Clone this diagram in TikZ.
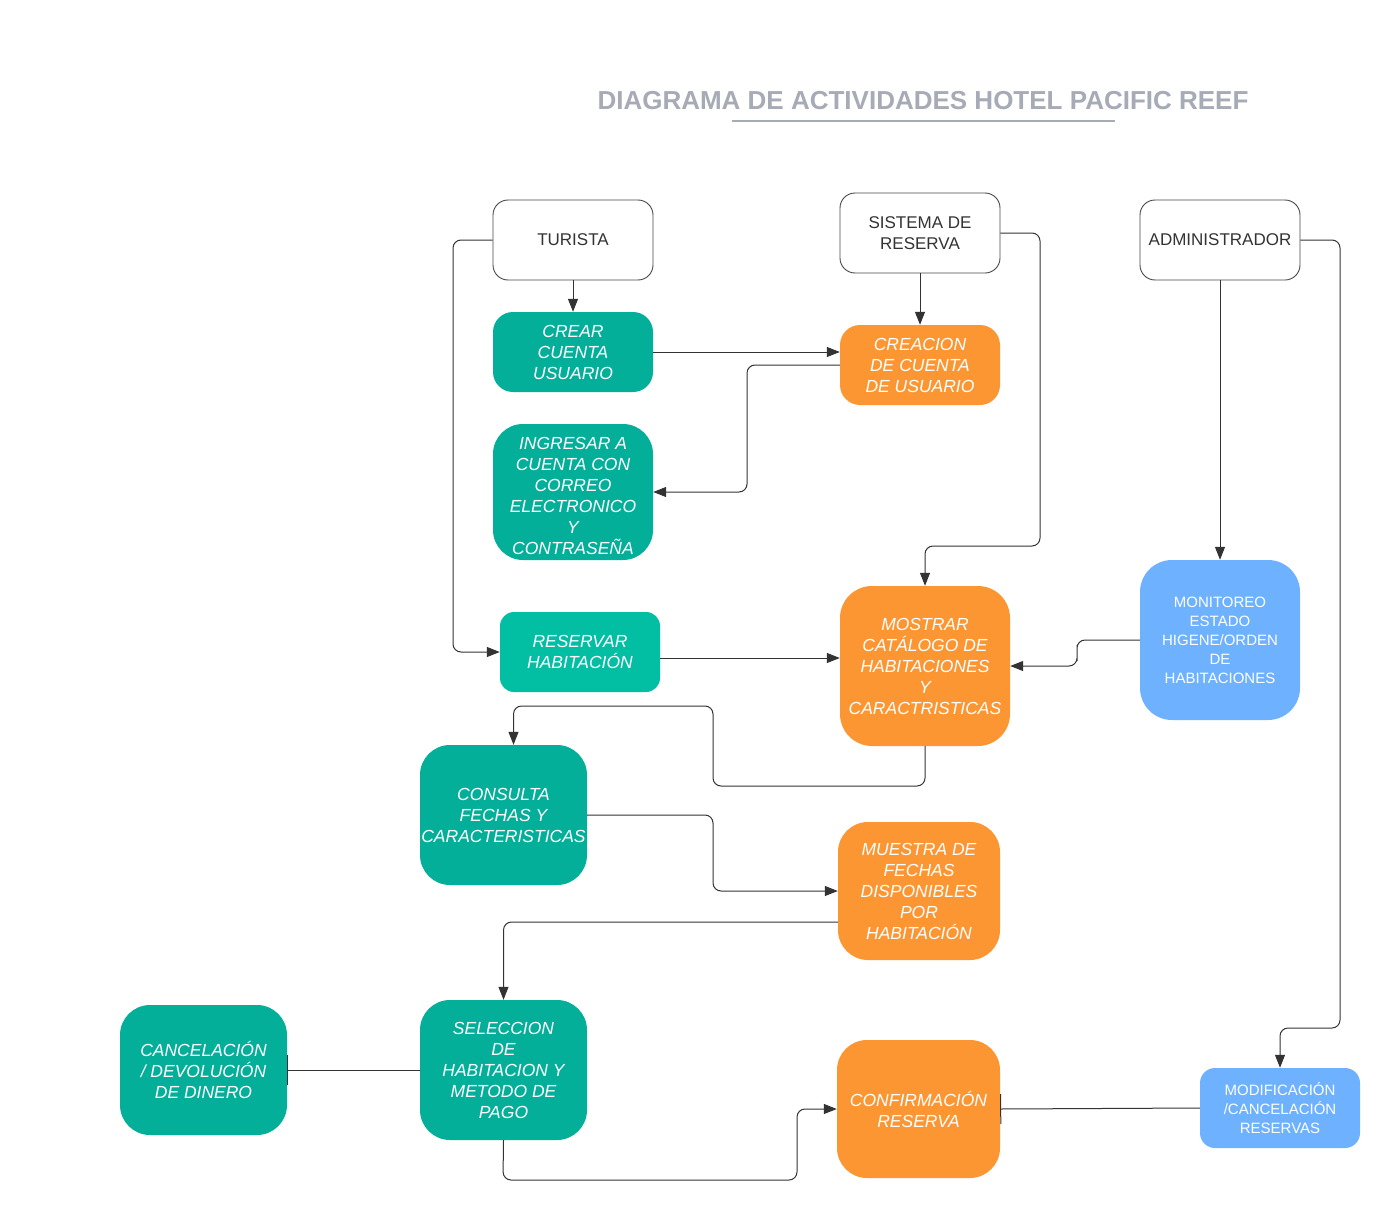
\documentclass[tikz,border=0pt]{standalone}
\usepackage{fontspec}
\setmainfont{Liberation Sans}
\usetikzlibrary{arrows.meta}
\definecolor{teal1}{HTML}{04AF9A}
\definecolor{teal2}{HTML}{02BFA4}
\definecolor{orng}{HTML}{FC9633}
\definecolor{blu}{HTML}{6DB1FF}
\definecolor{ttl}{HTML}{A6ABB6}
\definecolor{ln}{HTML}{333333}
\tikzset{
  box/.style={inner sep=0pt, align=center, rounded corners=#1},
  box/.default=20,
  hdr/.style={box=15, draw=ln!90, line width=0.9pt, fill=white, text=ln,
    font=\fontsize{17}{21}\selectfont, minimum width=160, minimum height=80},
  act/.style={box=20, fill=teal1, text=white, font=\fontsize{17.5}{21}\selectfont\itshape},
  sys/.style={box=20, fill=orng, text=white, font=\fontsize{17.5}{21}\selectfont\itshape},
  adm/.style={box=20, fill=blu, text=white, font=\fontsize{15}{19}\selectfont},
  arr/.style={draw=ln, line width=1pt, rounded corners=8,
    -{Triangle[length=13pt,width=10pt]}},
  bar/.style={draw=ln, line width=1pt, -{Bar[width=30pt]}},
}
\begin{document}
\begin{tikzpicture}[x=1pt,y=-1pt]
\useasboundingbox[fill=white] (0,0) rectangle (1400,1220);
% title
\node[text=ttl, font=\fontsize{26}{30}\selectfont\bfseries, inner sep=0pt] (title) at (923,101) {DIAGRAMA DE ACTIVIDADES HOTEL PACIFIC REEF};
\coordinate (ulA) at (732,121);
\coordinate (ulB) at (1115,121);
\draw[ttl, line width=2pt] (ulA) -- (ulB);
% headers
\node[hdr] (turista) at (573,240) {TURISTA};
\node[hdr] (sistema) at (920,233) {SISTEMA DE\\RESERVA};
\node[hdr] (admin) at (1220,240) {ADMINISTRADOR};
% activities
\node[act, minimum width=160, minimum height=80] (crear) at (573,352) {CREAR\\CUENTA\\USUARIO};
\node[sys, minimum width=160, minimum height=80] (creacion) at (920,365) {CREACION\\DE CUENTA\\DE USUARIO};
\node[act, box=30, minimum width=160, minimum height=136] (ingresar) at (573,492) {};
\node[act, anchor=center] (ingtxt) at (573,496) {INGRESAR A\\CUENTA CON\\CORREO\\ELECTRONICO\\Y\\CONTRASEÑA};
\node[act, fill=teal2, box=14, minimum width=160, minimum height=80] (reservar) at (580,652) {RESERVAR\\HABITACIÓN};
\node[sys, box=32, minimum width=170, minimum height=160] (mostrar) at (925,666) {MOSTRAR\\CATÁLOGO DE\\HABITACIONES\\Y\\CARACTRISTICAS};
\node[adm, box=32, minimum width=160, minimum height=160] (monitoreo) at (1220,640) {MONITOREO\\ESTADO\\HIGENE/ORDEN\\DE\\HABITACIONES};
\node[act, box=30, minimum width=167, minimum height=140] (consulta) at (503.5,815) {CONSULTA\\FECHAS Y\\CARACTERISTICAS};
\node[sys, box=30, minimum width=162, minimum height=138] (muestra) at (919,891) {MUESTRA DE\\FECHAS\\DISPONIBLES\\POR\\HABITACIÓN};
\node[act, box=30, minimum width=167, minimum height=140] (seleccion) at (503.5,1070) {SELECCION\\DE\\HABITACION Y\\METODO DE\\PAGO};
\node[act, box=30, minimum width=167, minimum height=130] (cancel) at (203.5,1070) {CANCELACIÓN\\/ DEVOLUCIÓN\\DE DINERO};
\node[sys, box=30, minimum width=163, minimum height=138] (confirm) at (918.5,1109) {CONFIRMACIÓN\\RESERVA};
\node[adm, box=15, minimum width=160, minimum height=80] (modif) at (1280,1108) {MODIFICACIÓN\\/CANCELACIÓN\\RESERVAS};
% connectors
\draw[arr] (turista.south) -- (crear.north);
\draw[arr] (sistema.south) -- (creacion.north);
\draw[arr] (admin.south) -- (monitoreo.north);
\draw[arr] (crear.east) -- (crear.east -| creacion.west);
\draw[arr] (creacion.west) -| (747,430) |- (ingresar.east);
\draw[arr] (turista.west) -- (453,240) |- (reservar.west);
\draw[arr] (sistema.east) -| (1040,546) -| (mostrar.north);
\draw[arr] ([yshift=-6]reservar.east) -- ([yshift=-6]reservar.east -| mostrar.west);
\draw[arr] (monitoreo.west) -| (1077,653) |- (mostrar.east);
\draw[arr] (mostrar.south) -- (925,786) -| (713,706) -| ([xshift=10]consulta.north);
\draw[arr] (consulta.east) -| (713,850) |- (muestra.west);
\draw[arr] ([yshift=-31]muestra.west) -| (seleccion.north);
\draw[arr] (admin.east) -| (1340,1028) -| (modif.north);
\draw[bar] (seleccion.west) -- (cancel.east);
\draw[arr] (seleccion.south) -- (503,1180) -| (797,1140) |- (confirm.west);
\draw[bar] (modif.west) -- (confirm.east);
\end{tikzpicture}
\end{document}
